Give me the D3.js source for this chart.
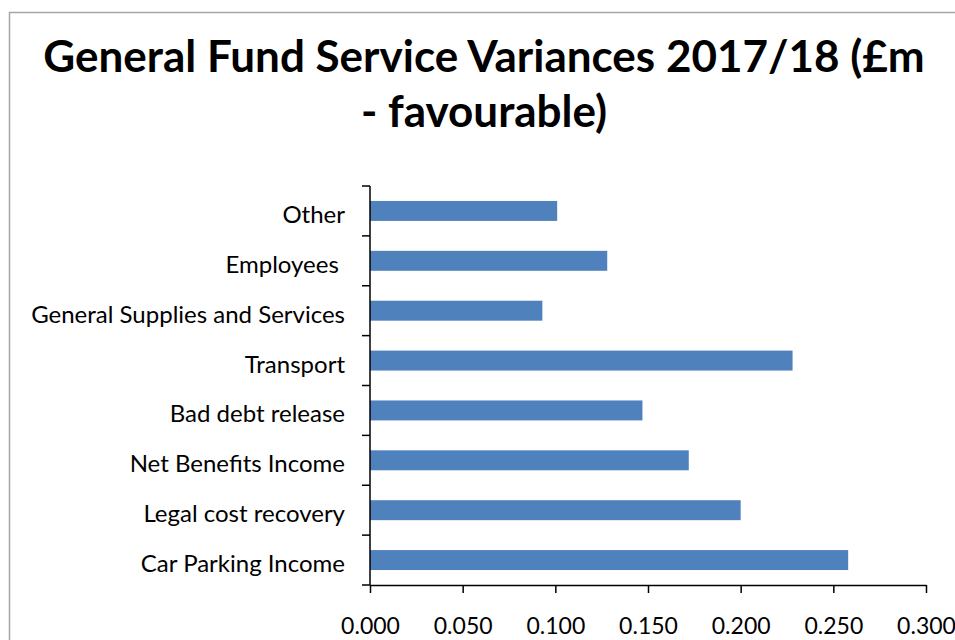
<!DOCTYPE html>
<html>
<head>
<meta charset="utf-8">
<script src="https://cdn.jsdelivr.net/npm/d3@7"></script>
<style>
  body { margin: 0; background: #fff; }
  svg { display: block; font-family: Lato, "Open Sans", sans-serif; }
</style>
</head>
<body>
<svg></svg>
<script>
const SIZE = { width: 955, height: 640 }
const margin = { top: 186, left: 370, right: 29, bottom: 55 }

const categories = ['Other', 'Employees ', 'General Supplies and Services', 'Transport',
  'Bad debt release', 'Net Benefits Income', 'Legal cost recovery', 'Car Parking Income']
const values = [0.101, 0.128, 0.093, 0.228, 0.147, 0.172, 0.200, 0.258]
const xTicks = [0, 0.05, 0.1, 0.15, 0.2, 0.25, 0.3]
const titleLines = ['General Fund Service Variances 2017/18 (£m', '- favourable)']

const svg = d3.select('svg')
  .attr('width', SIZE.width)
  .attr('height', SIZE.height)

// chart border (runs off the window like the screenshot)
svg.append('rect')
  .attr('x', 9.5).attr('y', 12.5)
  .attr('width', 1000).attr('height', 700)
  .attr('fill', 'none')
  .attr('stroke', '#a6a6a6')
  .attr('stroke-width', 1.5)

svg.append('g')
  .selectAll('text')
  .data(titleLines)
  .join('text')
    .attr('x', 484)
    .attr('y', (d, i) => 72 + i * 55)
    .attr('text-anchor', 'middle')
    .attr('font-weight', 'bold')
    .attr('font-size', 44)
    .attr('fill', '#000')
    .text(d => d)

const x = d3.scaleLinear()
  .domain([0, 0.3])
  .range([margin.left, SIZE.width - margin.right])

const y = d3.scaleBand()
  .domain(categories)
  .range([margin.top, SIZE.height - margin.bottom])
  .paddingInner(0.6)
  .paddingOuter(0.3)

const yEdges = d3.scaleLinear()
  .domain([0, categories.length])
  .range([margin.top, SIZE.height - margin.bottom])

svg.append('g')
  .selectAll('rect')
  .data(values)
  .join('rect')
    .attr('x', x(0))
    .attr('y', (d, i) => y(categories[i]))
    .attr('width', d => x(d) - x(0))
    .attr('height', y.bandwidth())
    .attr('fill', '#4f81bd')

// x axis
const xAxis = d3.axisBottom(x)
  .tickValues(xTicks)
  .tickSize(8)
  .tickSizeOuter(0)
  .tickFormat(d3.format('.3f'))

svg.append('g')
  .attr('transform', `translate(0,${SIZE.height - margin.bottom})`)
  .call(xAxis)
  .call(g => g.selectAll('line, path').attr('stroke', '#000').attr('stroke-width', 1.5))
  .call(g => g.selectAll('text')
    .attr('y', 49).attr('dy', 0)
    .attr('font-size', 23)
    .attr('font-family', 'Lato, sans-serif')
    .attr('fill', '#000'))

// y axis: ticks at category boundaries, labels centred on bands
const yAxisG = svg.append('g').attr('transform', `translate(${margin.left},0)`)
yAxisG.append('path')
  .attr('d', `M0,${margin.top}V${SIZE.height - margin.bottom}`)
  .attr('stroke', '#000')
  .attr('stroke-width', 1.5)
yAxisG.selectAll('line')
  .data(d3.range(categories.length + 1))
  .join('line')
    .attr('x1', -8).attr('x2', 0)
    .attr('y1', d => yEdges(d)).attr('y2', d => yEdges(d))
    .attr('stroke', '#000')
    .attr('stroke-width', 1.5)
yAxisG.selectAll('text')
  .data(categories)
  .join('text')
    .attr('x', -25)
    .attr('y', d => y(d) + y.bandwidth() / 2 + 12)
    .attr('text-anchor', 'end')
    .attr('font-size', 24)
    .attr('fill', '#000')
    .style('white-space', 'pre')
    .text(d => d)
</script>
</body>
</html>
